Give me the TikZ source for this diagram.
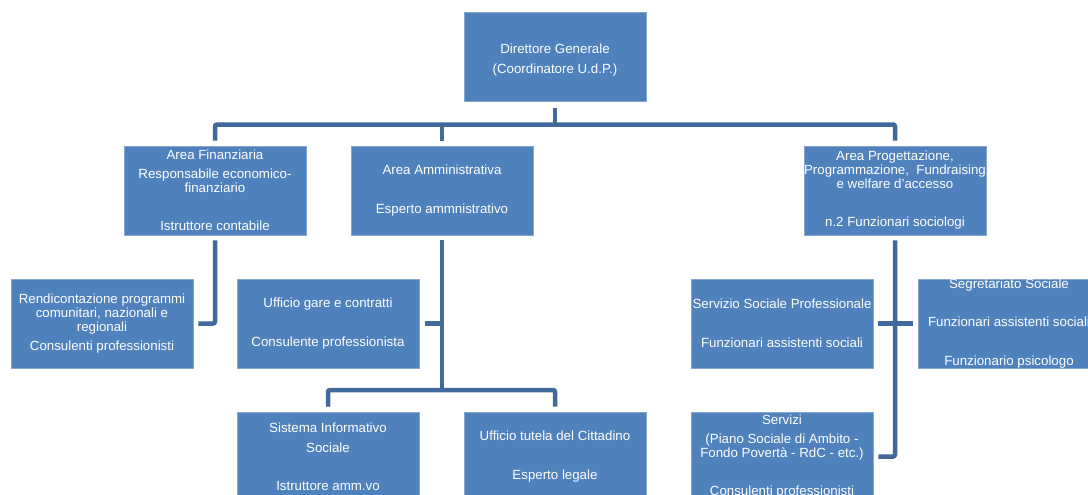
\documentclass[tikz,border=0pt]{standalone}
\usepackage{fontspec}
\setmainfont{Liberation Sans}
\usepackage{tikz}

\definecolor{boxblue}{RGB}{79,129,189}
\definecolor{boxedge}{RGB}{134,166,210}
\definecolor{linkblue}{RGB}{65,105,155}

\begin{document}
\begin{tikzpicture}[x=1pt,y=-1pt,
  box/.style={rectangle,fill=boxblue,draw=boxedge,line width=0.8pt,minimum width=182pt,minimum height=89pt,inner sep=0pt},
  txt/.style={align=center,text=white,inner sep=0pt,font=\fontsize{13.3}{14}\selectfont},
  link/.style={draw=linkblue,line width=4.5pt,rounded corners=2pt}]
\useasboundingbox (0,0) rectangle (1088,495);
\clip (0,0) rectangle (1088,495);

\node[box] (dir) at (555,57) {};
\node[box] (fin) at (215,190.5) {};
\node[box] (amm) at (442,190.5) {};
\node[box] (prog) at (895,190.5) {};
\node[box] (rend) at (102,323.5) {};
\node[box] (gare) at (328,323.5) {};
\node[box] (ssp) at (782,323.5) {};
\node[box] (seg) at (1009,323.5) {};
\node[box] (sis) at (328,456.5) {};
\node[box] (tut) at (555,456.5) {};
\node[box] (serv) at (782,456.5) {};

\node[txt] (dir-t) at ([yshift=-3pt]dir.center) {Direttore Generale\\[6pt](Coordinatore U.d.P.)};
\node[txt] (fin-t) at (fin) {Area Finanziaria\\[5pt]Responsabile economico-\\finanziario\\[24pt]Istruttore contabile};
\node[txt] (amm-t) at (amm) {Area Amministrativa\\[25pt]Esperto ammnistrativo};
\node[txt] (prog-t) at (prog) {Area Progettazione,\\Programmazione,\ \ Fundraising\\e welfare d’accesso\\[24pt]n.2 Funzionari sociologi};
\node[txt] (rend-t) at (rend) {Rendicontazione programmi\\comunitari, nazionali e\\regionali\\[5pt]Consulenti professionisti};
\node[txt] (gare-t) at (gare) {Ufficio gare e contratti\\[25pt]Consulente professionista};
\node[txt] (ssp-t) at (ssp) {Servizio Sociale Professionale\\[25pt]Funzionari assistenti sociali};
\node[txt] (seg-t) at (seg) {Segretariato Sociale\\[24pt]Funzionari assistenti sociali\\[25pt]Funzionario psicologo};
\node[txt] (sis-t) at (sis) {Sistema Informativo\\[6pt]Sociale\\[24pt]Istruttore amm.vo};
\node[txt] (tut-t) at (tut) {Ufficio tutela del Cittadino\\[25pt]Esperto legale};
\node[txt] (serv-t) at (serv) {Servizi\\[5pt](Piano Sociale di Ambito -\\Fondo Povertà - RdC - etc.)\\[24pt]Consulenti professionisti};

\coordinate (topbus) at (555,124.5);
\coordinate (ammbus) at (442,390);

\draw[link] ([yshift=-6pt]dir.south) -- (dir.south |- topbus);
\draw[link] ([yshift=5pt]fin.north) |- (topbus) -| ([yshift=5pt]prog.north);
\draw[link] ([yshift=5pt]amm.north) -- (amm.north |- topbus);
\draw[link] ([yshift=-5pt]fin.south) |- ([xshift=5pt]rend.east);
\draw[link] ([yshift=-5pt]amm.south) -- (ammbus);
\draw[link] ([xshift=6pt]gare.east) -- (amm.south |- gare.east);
\draw[link] ([yshift=5pt]sis.north) |- (ammbus) -| ([yshift=5pt]tut.north);
\draw[link] ([yshift=-5pt]prog.south) |- ([xshift=5pt]serv.east);
\draw[link] ([xshift=5pt]ssp.east) -- ([xshift=-5pt]seg.west);
\end{tikzpicture}
\end{document}
